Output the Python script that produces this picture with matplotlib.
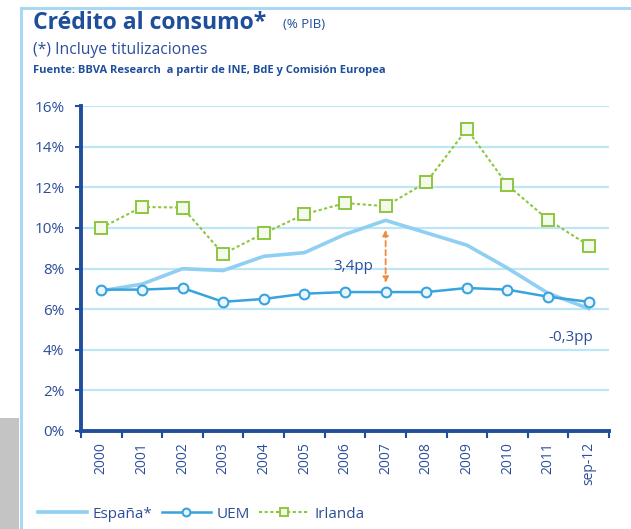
import matplotlib
matplotlib.use("Agg")
import matplotlib.pyplot as plt
from matplotlib.lines import Line2D
from matplotlib.patches import Rectangle

categories = ["2000", "2001", "2002", "2003", "2004", "2005", "2006",
              "2007", "2008", "2009", "2010", "2011", "sep-12"]
espana = [6.9, 7.23, 7.99, 7.9, 8.6, 8.78, 9.68, 10.37, 9.76, 9.15, 8.02, 6.78, 6.03]
uem = [6.96, 6.96, 7.04, 6.36, 6.5, 6.76, 6.84, 6.84, 6.84, 7.04, 6.96, 6.61, 6.36]
irlanda = [10.0, 11.03, 11.0, 8.72, 9.73, 10.67, 11.22, 11.07, 12.24, 14.86, 12.11, 10.4, 9.13]
yticks = [0, 2, 4, 6, 8, 10, 12, 14, 16]
ytick_labels = ["0%", "2%", "4%", "6%", "8%", "10%", "12%", "14%", "16%"]

plt.rcParams['font.family'] = ['Open Sans', 'DejaVu Sans']

W, H = 631, 529
fig = plt.figure(figsize=(W / 100, H / 100), dpi=100)
fig.patch.set_facecolor("white")

dark = "#1F4E9B"
txt = "#2C4E9A"
grid = "#BFE6F7"

ax = fig.add_axes([81 / W, (H - 431) / H, (609 - 81) / W, (431 - 106) / H])
x = list(range(len(categories)))

ax.plot(x, espana, color="#8FCFF1", lw=2.6, label="España*", zorder=3)
ax.plot(x, uem, color="#39A3DD", lw=1.8, marker="o", ms=7, mfc="#EAF6FD",
        mec="#39A3DD", mew=1.5, label="UEM", zorder=4)
ax.plot(x, irlanda, color="#8DC63F", lw=1.5, ls=(0, (1.5, 1.2)), marker="s", ms=8,
        mfc="#F4FAEC", mec="#8DC63F", mew=1.4, label="Irlanda", zorder=4)

ax.set_xlim(-0.5, len(categories) - 0.5)
ax.set_ylim(0, 16)
ax.set_yticks(yticks)
ax.set_yticklabels(ytick_labels)
for t in yticks[1:]:
    ax.axhline(t, color=grid, lw=1.6, zorder=1)

ax.set_xticks([i - 0.5 for i in range(len(categories) + 1)])
ax.set_xticklabels([])
ax.set_xticks(x, minor=True)
ax.set_xticklabels(categories, minor=True, rotation=90, fontsize=10, color=txt)
ax.tick_params(axis="x", which="minor", length=0, pad=8)
ax.tick_params(axis="x", which="major", length=5, width=1.5, color=dark, direction="out")
ax.tick_params(axis="y", length=4, width=1.5, color=dark, labelsize=11, labelcolor=txt, pad=8)

for s in ["top", "right"]:
    ax.spines[s].set_visible(False)
for s in ["left", "bottom"]:
    ax.spines[s].set_color(dark)
    ax.spines[s].set_linewidth(2.8)

# annotations
ax.annotate("", xy=(7, 7.3), xytext=(7, 9.9),
            arrowprops=dict(arrowstyle="<|-|>", color="#F08A3C", lw=1.3, ls=(0, (3, 2)),
                            mutation_scale=8, shrinkA=0, shrinkB=0))
ax.text(6.2, 8.08, "3,4pp", ha="center", va="center", fontsize=11, color=txt)
ax.text(11.55, 4.58, "-0,3pp", ha="center", va="center", fontsize=11, color=txt)

# frame and decorations
fig.add_artist(Line2D([21 / W, 21 / W], [0, 1 - 8 / H], color="#A9D8F3", lw=2.2))
fig.add_artist(Line2D([21 / W, 1], [1 - 8 / H, 1 - 8 / H], color="#A9D8F3", lw=2.2))
fig.add_artist(Rectangle((0, 0), 19 / W, 111 / H, transform=fig.transFigure,
                         color="#C4C4C4", lw=0))

# titles
fig.text(33 / W, 1 - 23 / H, "Crédito al consumo*", fontsize=16.6, fontweight="bold",
         color=dark, va="center", ha="left")
fig.text(283 / W, 1 - 25 / H, "(% PIB)", fontsize=9.5, color=dark, va="center", ha="left")
fig.text(33 / W, 1 - 50 / H, "(*) Incluye titulizaciones", fontsize=11.3, color=txt,
         va="center", ha="left")
fig.text(33 / W, 1 - 71 / H, "Fuente: BBVA Research  a partir de INE, BdE y Comisión Europea",
         fontsize=8, fontweight="bold", color=dark, va="center", ha="left")

handles, labels = ax.get_legend_handles_labels()
leg = fig.legend(handles, labels, loc="center left", bbox_to_anchor=(24 / W, 1 - 514 / H),
                 ncol=3, frameon=False, fontsize=11, handlelength=3.2, columnspacing=0.6,
                 handletextpad=0.4, markerscale=0.8)
for t in leg.get_texts():
    t.set_color(txt)

fig.savefig("out.png", dpi=100, facecolor="white")
